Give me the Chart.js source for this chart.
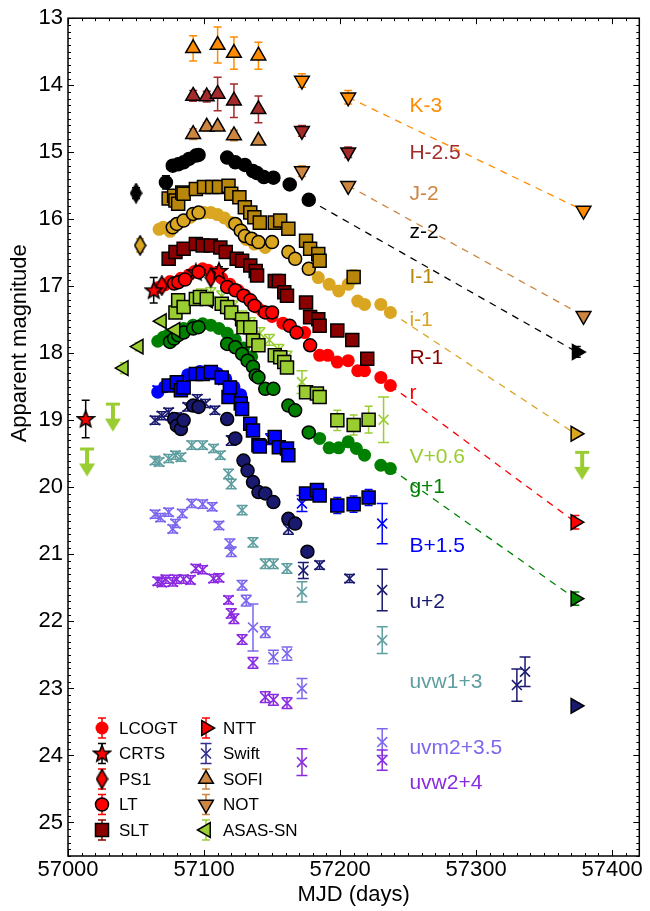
<!DOCTYPE html>
<html>
<head>
<meta charset="utf-8">
<script src="https://cdn.jsdelivr.net/npm/chart.js@4.4.1/dist/chart.umd.min.js"></script>
<style>
  html, body { margin: 0; padding: 0; background: #fff; }
</style>
</head>
<body>
<canvas id="lc" width="650" height="911"></canvas>
<script>
// photometry, [MJD, apparent mag (with offset), error]
const K_SOFI = [[57092,13.45,0.19],[57110,13.40,0.27],[57122,13.52,0.24],[57140,13.56,0.2]];
const K_NOT = [[57172,13.93,0.1],[57206,14.18,0.1]];
const K_LATE = [[57379,15.87,0.04]];
const H_SOFI = [[57092,14.16,0.08],[57102,14.17,0.08],[57110,14.13,0.25],[57122,14.23,0.25],[57140,14.36,0.2]];
const H_NOT = [[57172,14.68,0.08],[57206,15.00,0.08]];
const J_SOFI = [[57092,14.73,0.08],[57102,14.62,0.06],[57110,14.62,0.04],[57122,14.75,0.08],[57140,14.83,0.04]];
const J_NOT = [[57172,15.28,0.08],[57206,15.50,0.04]];
const J_LATE = [[57379,17.44,0.03]];

const z_LT = [[57072,15.45,0.1],[57077,15.20],[57081,15.18],[57085,15.15],[57089,15.10],[57094,15.05],[57096,15.04],[57117,15.08],[57123,15.15],[57130,15.19],[57136,15.28],[57139,15.31],[57144,15.37],[57151,15.38],[57163,15.48],[57177,15.71]];
const z_PS1 = [[57050,15.61,0.08]];
const z_NTT = [[57374,17.98,0.08]];

const I_SLT = [[57074,15.69],[57078,15.65],[57079,15.72],[57081,15.77],[57084,15.60],[57085,15.62],[57094,15.55],[57100,15.52],[57106,15.52],[57111,15.52],[57118,15.50],[57120,15.62],[57126,15.67],[57130,15.82],[57134,15.90],[57137,15.97],[57141,16.05],[57152,16.05],[57156,16.02],[57162,16.14],[57175,16.32],[57178,16.44],[57184,16.52],[57185,16.62],[57210,16.86,0.1]];

const i_LT = [[57077,16.12],[57080,16.07],[57085,16.02],[57092,15.92],[57096,15.90],[57123,16.07],[57127,16.17],[57130,16.25],[57135,16.29],[57140,16.34],[57150,16.34],[57162,16.49],[57167,16.59],[57177,16.74]];
const i_LCOGT = [[57067,16.15,0.06],[57070,16.12],[57075,16.18],[57080,16.08],[57090,15.97],[57100,15.90,0.06],[57105,15.90,0.06],[57110,15.93],[57115,15.98],[57120,16.05],[57125,16.12],[57131,16.30],[57137,16.37],[57145,16.42],[57184,16.87],[57192,16.97],[57199,17.07],[57206,16.97],[57213,17.22],[57218,17.27],[57230,17.27],[57237,17.39,0.06]];
const i_PS1 = [[57053,16.39,0.1]];
const i_NTT = [[57373,19.20,0.05]];

const R_SLT = [[57074,16.59],[57079,16.49],[57085,16.44],[57094,16.37],[57099,16.39],[57105,16.39],[57112,16.42],[57116,16.49],[57124,16.59],[57128,16.62],[57134,16.69],[57138,16.77],[57139,16.84],[57152,16.92],[57155,16.92],[57159,17.09],[57161,17.14],[57175,17.24],[57178,17.46],[57184,17.49],[57185,17.59],[57198,17.66,0.08],[57209,17.80,0.08],[57220,18.08]];

const r_LCOGT = [[57066,17.02],[57071,16.98],[57075,16.93],[57083,16.88],[57089,16.83],[57093,16.78],[57099,16.74],[57103,16.76],[57108,16.80],[57113,16.88],[57119,16.97],[57125,17.06],[57130,17.13],[57134,17.22],[57139,17.31],[57143,17.37],[57150,17.45],[57158,17.55],[57174,17.69],[57185,18.03],[57191,18.03],[57198,18.13],[57206,18.11],[57213,18.26],[57218,18.26],[57230,18.36],[57237,18.48,0.06]];
const r_LT = [[57078,16.96],[57081,16.94],[57086,16.90],[57096,16.79],[57117,17.01],[57123,17.06],[57129,17.14],[57134,17.21],[57137,17.29],[57145,17.39],[57150,17.39],[57163,17.59],[57168,17.69],[57178,17.88]];
const r_CRTS = [[57013,18.98,0.28],[57063,17.06,0.19],[57094,16.79,0.06],[57111,16.77,0.06]];
const r_PS1 = [[57069,16.99,0.05],[57105,16.87,0.05]];
const r_NTT = [[57373,20.52,0.1]];

const V_ASAS = [[57041,18.22,0.08],[57052,17.90,0.06],[57069,17.52,0.05],[57079,17.65,0.05],[57103,17.21,0.05],[57120,17.40,0.05]];
const V_LIMITS = [[57014,19.42],[57033,18.75],[57378,19.47]];
const V_SLT = [[57079,17.39],[57081,17.21],[57085,17.31],[57094,17.19],[57097,17.16],[57102,17.19],[57113,17.26],[57117,17.31],[57120,17.39],[57128,17.49],[57129,17.61],[57134,17.61],[57136,17.81],[57140,17.88],[57152,18.03],[57156,18.06],[57159,18.13],[57161,18.21],[57175,18.58],[57183,18.60],[57185,18.65],[57198,19.00,0.15],[57210,19.07,0.15],[57221,18.99,0.2]];
const V_SWIFT = [[57098,17.12,0.08],[57105,17.10,0.08],[57113,17.15,0.08],[57121,17.30,0.08],[57128,17.45,0.08],[57134,17.55,0.08],[57141,17.70,0.08],[57148,17.80,0.08],[57155,17.95,0.08],[57161,18.05,0.08],[57172,18.43,0.17],[57232,18.99,0.34]];

const g_LT = [[57075,17.83],[57078,17.78],[57081,17.73],[57085,17.69],[57092,17.63],[57096,17.61],[57117,17.86],[57123,17.91],[57128,18.01],[57132,18.11],[57136,18.20],[57138,18.33],[57140,18.36],[57145,18.53],[57151,18.53],[57162,18.78],[57167,18.85],[57177,19.18]];
const g_LCOGT = [[57066,17.82],[57070,17.76],[57074,17.72],[57079,17.68],[57085,17.63],[57092,17.58],[57099,17.56],[57105,17.58],[57111,17.63],[57117,17.70],[57123,17.80],[57129,17.92],[57135,18.05],[57185,19.27],[57192,19.41],[57199,19.41],[57206,19.32],[57212,19.42],[57218,19.52],[57230,19.67],[57237,19.72,0.06]];
const g_NTT = [[57373,21.66,0.1]];

const B_SLT = [[57074,18.48],[57080,18.43],[57083,18.55],[57085,18.51],[57094,18.31],[57099,18.31],[57105,18.28],[57113,18.36],[57118,18.65],[57119,18.51],[57127,18.75],[57128,18.83],[57134,19.05],[57136,19.15],[57140,19.37],[57141,19.39],[57152,19.25],[57155,19.40],[57161,19.42],[57162,19.52],[57175,20.09,0.08],[57183,20.04],[57185,20.12],[57198,20.27,0.12],[57210,20.25,0.12],[57221,20.15,0.12]];
const B_LCOGT = [[57066,18.58,0.06],[57071,18.50,0.06],[57077,18.45,0.06],[57088,18.32,0.06],[57097,18.27,0.06],[57104,18.27,0.06],[57110,18.30,0.06],[57116,18.38,0.06],[57122,18.50,0.06],[57127,18.62,0.06]];
const B_SWIFT = [[57066,18.55,0.06],[57072,18.50,0.06],[57092,18.33,0.06],[57099,18.30,0.06],[57107,18.33,0.06],[57114,18.40,0.06],[57124,18.65,0.07],[57149,19.28,0.08],[57172,20.24,0.12],[57231,20.54,0.3]];

const u_LT = [[57078,18.98],[57080,19.08],[57083,19.13],[57085,19.00],[57092,18.78],[57096,18.80],[57117,18.98],[57123,19.27],[57129,19.60],[57132,19.75],[57136,19.92],[57140,20.07],[57145,20.09],[57151,20.22],[57162,20.47],[57167,20.54],[57176,20.96]];
const u_SWIFT = [[57064,19.00,0.06],[57069,18.93,0.06],[57074,18.88,0.06],[57080,18.95,0.06],[57088,18.80,0.06],[57095,18.68,0.06],[57101,18.75,0.06],[57108,18.85,0.06],[57120,19.30,0.07],[57162,20.62,0.08],[57173,21.24,0.12],[57185,21.16,0.06],[57207,21.36,0.06],[57231,21.53,0.31],[57330,22.95,0.24],[57336,22.75,0.22]];
const u_NTT = [[57373,23.26,0.04]];

const uvw1_SWIFT = [[57064,19.60,0.06],[57067,19.62,0.06],[57074,19.57,0.06],[57079,19.52,0.06],[57083,19.55,0.06],[57091,19.37,0.06],[57099,19.37,0.06],[57107,19.42,0.06],[57112,19.52,0.06],[57118,19.80,0.07],[57120,19.95,0.07],[57128,20.34,0.07],[57136,20.82,0.07],[57145,21.14,0.07],[57151,21.14,0.07],[57161,21.21,0.07],[57172,21.56,0.15],[57231,22.28,0.2]];
const uvm2_SWIFT = [[57064,20.40,0.06],[57068,20.45,0.06],[57074,20.37,0.06],[57077,20.62,0.06],[57079,20.54,0.06],[57084,20.39,0.06],[57091,20.24,0.06],[57099,20.25,0.06],[57106,20.29,0.06],[57111,20.57,0.06],[57119,20.84,0.07],[57120,20.96,0.07],[57128,21.46,0.07],[57131,21.69,0.08],[57136,22.09,0.35],[57145,22.16,0.08],[57151,22.53,0.1],[57161,22.48,0.1],[57172,23.00,0.15],[57231,23.80,0.2]];
const uvw2_SWIFT = [[57066,21.40,0.06],[57069,21.42,0.06],[57072,21.37,0.06],[57077,21.41,0.06],[57080,21.37,0.06],[57085,21.37,0.06],[57090,21.38,0.06],[57094,21.21,0.06],[57099,21.23,0.06],[57107,21.36,0.06],[57111,21.35,0.06],[57118,21.68,0.06],[57120,21.88,0.07],[57122,21.96,0.07],[57128,22.27,0.07],[57136,22.62,0.08],[57145,23.13,0.08],[57151,23.17,0.08],[57161,23.22,0.08],[57172,24.10,0.2],[57231,24.07,0.15]];

const xTicks = [57000, 57100, 57200, 57300, 57400];
const yTicks = [13, 14, 15, 16, 17, 18, 19, 20, 21, 22, 23, 24, 25];

const COL = {K:'#FF8C00', H:'#A52A2A', J:'#CD853F', z:'#000000', I:'#B8860B', i:'#DAA520', R:'#8B0000', r:'#FF0000',
  V:'#9ACD32', g:'#008000', B:'#0000FF', u:'#191970', w1:'#5F9EA0', m2:'#7B68EE', w2:'#8A2BE2'};
const FONT = "'Liberation Sans', Arial, sans-serif";

// marker images Chart.js has no built-in shape for
function starImg(fill) {
  const c = document.createElement('canvas'); c.width = 20; c.height = 20;
  const x = c.getContext('2d');
  x.beginPath();
  for (let k = 0; k < 10; k++) {
    const rr = k % 2 ? 3.8 : 8.8, a = -Math.PI / 2 + k * Math.PI / 5;
    x.lineTo(10 + rr * Math.cos(a), 10.5 + rr * Math.sin(a));
  }
  x.closePath(); x.fillStyle = fill; x.fill();
  x.lineWidth = 1.5; x.strokeStyle = '#000'; x.stroke();
  return c;
}
function diamondImg(fill) {
  const c = document.createElement('canvas'); c.width = 13; c.height = 21;
  const x = c.getContext('2d');
  x.beginPath(); x.moveTo(6.5, 1); x.lineTo(12, 10.5); x.lineTo(6.5, 20); x.lineTo(1, 10.5); x.closePath();
  x.fillStyle = fill; x.fill(); x.lineWidth = 1.5; x.strokeStyle = '#000'; x.stroke();
  return c;
}
function arrowImg(col) {
  const c = document.createElement('canvas'); c.width = 18; c.height = 60;
  const x = c.getContext('2d');
  x.fillStyle = col;
  x.fillRect(2, 29, 14, 3);
  x.fillRect(7, 30, 4, 17);
  x.beginPath(); x.moveTo(1, 45); x.lineTo(17, 45); x.lineTo(9, 58); x.closePath(); x.fill();
  return c;
}

const MARK = {
  LCOGT: {style: 'circle', r: 6.5, bw: 0, order: 50},
  LT: {style: 'circle', r: 6.5, bw: 1.5, order: 10},
  SLT: {style: 'rect', r: 9.2, bw: 1.5, order: 10},
  NTT: {style: 'triangle', r: 8.5, rot: 90, bw: 1.5, order: 10},
  SOFI: {style: 'triangle', r: 8.5, rot: 0, bw: 1.5, order: 10},
  NOT: {style: 'triangle', r: 8.5, rot: 180, bw: 1.5, order: 10},
  ASAS: {style: 'triangle', r: 8.5, rot: 270, bw: 1.5, order: 10},
  Swift: {style: 'crossRot', r: 7, bw: 1.6, order: 40},
  PS1: {style: 'img', r: 7, bw: 1.5, order: 10},
  CRTS: {style: 'img', r: 8, bw: 1.5, order: 10}
};

function series(rows, color, inst, errCol) {
  const m = MARK[inst];
  let style = m.style;
  if (inst === 'PS1') style = diamondImg(color);
  if (inst === 'CRTS') style = starImg(color);
  return {
    type: 'scatter',
    data: rows.map(p => ({x: p[0], y: p[1], e: p[2] || 0})),
    pointStyle: style,
    pointRadius: m.r,
    pointHoverRadius: m.r,
    pointRotation: m.rot || 0,
    pointBackgroundColor: color,
    pointBorderColor: inst === 'Swift' ? color : '#000',
    pointBorderWidth: m.bw,
    errColor: errCol || color,
    cap: inst === 'Swift' ? 5.5 : 4,
    order: m.order
  };
}
function dash(a, b, color) {
  return {type: 'line', data: [{x: a[0], y: a[1]}, {x: b[0], y: b[1]}], borderColor: color,
    borderWidth: 1.3, borderDash: [7, 6], pointRadius: 0, fill: false, order: 100};
}

const datasets = [
  dash(K_NOT[K_NOT.length - 1], K_LATE[0], COL.K),
  dash(J_NOT[J_NOT.length - 1], J_LATE[0], COL.J),
  dash(z_LT[z_LT.length - 1], z_NTT[0], COL.z),
  dash(i_LCOGT[i_LCOGT.length - 1], i_NTT[0], COL.i),
  dash(r_LCOGT[r_LCOGT.length - 1], r_NTT[0], COL.r),
  dash(g_LCOGT[g_LCOGT.length - 1], g_NTT[0], COL.g),
  series(K_SOFI, COL.K, 'SOFI'), series(K_NOT, COL.K, 'NOT'), series(K_LATE, COL.K, 'NOT'),
  series(H_SOFI, COL.H, 'SOFI'), series(H_NOT, COL.H, 'NOT'),
  series(J_SOFI, COL.J, 'SOFI'), series(J_NOT, COL.J, 'NOT'), series(J_LATE, COL.J, 'NOT'),
  series(z_LT, COL.z, 'LT'), series(z_PS1, COL.z, 'PS1'), series(z_NTT, COL.z, 'NTT'),
  series(I_SLT, COL.I, 'SLT'),
  series(i_LCOGT, COL.i, 'LCOGT'), series(i_LT, COL.i, 'LT'), series(i_PS1, COL.i, 'PS1'), series(i_NTT, COL.i, 'NTT'),
  series(R_SLT, COL.R, 'SLT'),
  series(r_LCOGT, COL.r, 'LCOGT'), series(r_LT, COL.r, 'LT'), series(r_CRTS, COL.r, 'CRTS', '#000'),
  series(r_PS1, COL.r, 'PS1'), series(r_NTT, COL.r, 'NTT'),
  series(V_SWIFT, COL.V, 'Swift'), series(V_SLT, COL.V, 'SLT'), series(V_ASAS, COL.V, 'ASAS'),
  {type: 'scatter', data: V_LIMITS.map(p => ({x: p[0], y: p[1]})), pointStyle: arrowImg(COL.V), pointRadius: 8, order: 10},
  series(g_LCOGT, COL.g, 'LCOGT'), series(g_LT, COL.g, 'LT'), series(g_NTT, COL.g, 'NTT'),
  series(B_LCOGT, COL.B, 'LCOGT'), series(B_SWIFT, COL.B, 'Swift'), series(B_SLT, COL.B, 'SLT'),
  series(u_SWIFT, COL.u, 'Swift'), series(u_LT, COL.u, 'LT'), series(u_NTT, COL.u, 'NTT'),
  series(uvw1_SWIFT, COL.w1, 'Swift'), series(uvm2_SWIFT, COL.m2, 'Swift'), series(uvw2_SWIFT, COL.w2, 'Swift')
];

// vertical error bars with caps, under the markers
const errorBars = {
  id: 'errorBars',
  beforeDatasetsDraw(chart) {
    const {ctx, scales: {x, y}} = chart;
    ctx.save();
    ctx.lineWidth = 1.5;
    chart.data.datasets.forEach(ds => {
      if (!ds.errColor) return;
      ctx.strokeStyle = ds.errColor;
      const c = ds.cap;
      ds.data.forEach(p => {
        if (!p.e) return;
        const px = x.getPixelForValue(p.x);
        const y1 = y.getPixelForValue(p.y - p.e), y2 = y.getPixelForValue(p.y + p.e);
        ctx.beginPath();
        ctx.moveTo(px, y1); ctx.lineTo(px, y2);
        ctx.moveTo(px - c, y1); ctx.lineTo(px + c, y1);
        ctx.moveTo(px - c, y2); ctx.lineTo(px + c, y2);
        ctx.stroke();
      });
    });
    ctx.restore();
  }
};

// closed frame with inward ticks on all four sides, plus the y title
const frame = {
  id: 'frame',
  afterDraw(chart, args, opts) {
    const {ctx, chartArea: a, scales: {x, y}} = chart;
    ctx.save();
    ctx.strokeStyle = '#000';
    ctx.lineWidth = 1.5;
    ctx.strokeRect(a.left, a.top, a.right - a.left, a.bottom - a.top);
    ctx.lineWidth = 1;
    ctx.beginPath();
    for (let v = x.min; v <= x.max; v += 10) {
      const px = Math.round(x.getPixelForValue(v)) + 0.5, L = v % 100 === 0 ? 6 : 3;
      ctx.moveTo(px, a.bottom); ctx.lineTo(px, a.bottom - L);
      ctx.moveTo(px, a.top); ctx.lineTo(px, a.top + L);
    }
    for (let k = Math.round(y.min * 10); k <= Math.round(y.max * 10); k++) {
      const py = Math.round(y.getPixelForValue(k / 10)) + 0.5, L = k % 10 === 0 ? 6 : 3;
      ctx.moveTo(a.left, py); ctx.lineTo(a.left + L, py);
      ctx.moveTo(a.right, py); ctx.lineTo(a.right - L, py);
    }
    ctx.stroke();
    ctx.translate(opts.titleX, y.getPixelForValue(opts.titleMag));
    ctx.rotate(-Math.PI / 2);
    ctx.font = '22px ' + FONT;
    ctx.fillStyle = '#000';
    ctx.textAlign = 'center';
    ctx.textBaseline = 'middle';
    ctx.fillText(opts.title, 0, 0);
    ctx.restore();
  }
};

// band names written at the right of the curves
const bandNames = {
  id: 'bandNames',
  afterDatasetsDraw(chart, args, opts) {
    const {ctx, scales: {x, y}} = chart;
    ctx.save();
    ctx.font = '21px ' + FONT;
    ctx.textBaseline = 'middle';
    ctx.textAlign = 'left';
    opts.items.forEach(it => {
      ctx.fillStyle = it.color;
      ctx.fillText(it.text, x.getPixelForValue(opts.at), y.getPixelForValue(it.mag));
    });
    ctx.restore();
  }
};

// two-column instrument key in the lower left corner
const instKey = {
  id: 'instKey',
  afterDraw(chart, args, opts) {
    const {ctx} = chart;
    const H = Chart.helpers;
    ctx.save();
    ctx.font = '17px ' + FONT;
    ctx.textBaseline = 'middle';
    opts.items.forEach((it, n) => {
      const col = Math.floor(n / 5), row = n % 5;
      const mx = opts.x[col], my = opts.y + row * opts.dy;
      const c = it.inst === 'Swift' ? 5.5 : 4;
      ctx.strokeStyle = it.err; ctx.lineWidth = 1.5;
      ctx.beginPath();
      ctx.moveTo(mx, my - 10); ctx.lineTo(mx, my + 10);
      ctx.moveTo(mx - c, my - 10); ctx.lineTo(mx + c, my - 10);
      ctx.moveTo(mx - c, my + 10); ctx.lineTo(mx + c, my + 10);
      ctx.stroke();
      const m = MARK[it.inst];
      let style = m.style;
      if (it.inst === 'PS1') style = diamondImg(it.fill);
      if (it.inst === 'CRTS') style = starImg(it.fill);
      ctx.fillStyle = it.fill;
      ctx.strokeStyle = it.inst === 'Swift' ? it.fill : '#000';
      ctx.lineWidth = m.bw;
      H.drawPoint(ctx, {pointStyle: style, radius: m.r, rotation: m.rot || 0, borderWidth: m.bw}, mx, my);
      ctx.fillStyle = '#000';
      ctx.fillText(it.text, mx + 17, my + 1);
    });
    ctx.restore();
  }
};

new Chart(document.getElementById('lc'), {
  type: 'scatter',
  data: {datasets: datasets},
  plugins: [errorBars, frame, bandNames, instKey],
  options: {
    responsive: false,
    animation: false,
    devicePixelRatio: 1,
    layout: {padding: {top: 17, right: 7, left: 0, bottom: 0}},
    scales: {
      x: {
        type: 'linear', min: 57000, max: 57420,
        grid: {display: false, drawTicks: false},
        border: {display: false},
        afterBuildTicks: s => { s.ticks = xTicks.map(v => ({value: v})); },
        afterFit: s => { s.height = 55; },
        ticks: {color: '#000', font: {family: FONT, size: 22}, padding: 1, maxRotation: 0,
          callback: v => String(v)},
        title: {display: true, text: 'MJD (days)', color: '#000', font: {family: FONT, size: 22},
          padding: {top: 0, bottom: 3}}
      },
      y: {
        type: 'linear', reverse: true, min: 13, max: 25.5,
        grid: {display: false, drawTicks: false},
        border: {display: false},
        afterBuildTicks: s => { s.ticks = yTicks.map(v => ({value: v})); },
        afterFit: s => { s.width = 68; },
        ticks: {color: '#000', font: {family: FONT, size: 22}, padding: 5, callback: v => String(v)},
        title: {display: false}
      }
    },
    plugins: {
      legend: {display: false},
      tooltip: {enabled: false},
      frame: {title: 'Apparent magnitude', titleX: 20, titleMag: 17.85},
      bandNames: {
        at: 57251,
        items: [
          {text: 'K-3', mag: 14.31, color: COL.K},
          {text: 'H-2.5', mag: 15.02, color: COL.H},
          {text: 'J-2', mag: 15.62, color: COL.J},
          {text: 'z-2', mag: 16.20, color: COL.z},
          {text: 'I-1', mag: 16.87, color: COL.I},
          {text: 'i-1', mag: 17.51, color: COL.i},
          {text: 'R-1', mag: 18.08, color: COL.R},
          {text: 'r', mag: 18.60, color: COL.r},
          {text: 'V+0.6', mag: 19.55, color: COL.V},
          {text: 'g+1', mag: 20.00, color: COL.g},
          {text: 'B+1.5', mag: 20.88, color: COL.B},
          {text: 'u+2', mag: 21.71, color: COL.u},
          {text: 'uvw1+3', mag: 22.91, color: COL.w1},
          {text: 'uvm2+3.5', mag: 23.89, color: COL.m2},
          {text: 'uvw2+4', mag: 24.41, color: COL.w2}
        ]
      },
      instKey: {
        x: [102, 206], y: 728, dy: 25.5,
        items: [
          {text: 'LCOGT', inst: 'LCOGT', fill: '#FF0000', err: '#FF0000'},
          {text: 'CRTS', inst: 'CRTS', fill: '#FF0000', err: '#000000'},
          {text: 'PS1', inst: 'PS1', fill: '#FF0000', err: '#FF0000'},
          {text: 'LT', inst: 'LT', fill: '#FF0000', err: '#FF0000'},
          {text: 'SLT', inst: 'SLT', fill: '#8B0000', err: '#8B0000'},
          {text: 'NTT', inst: 'NTT', fill: '#FF0000', err: '#FF0000'},
          {text: 'Swift', inst: 'Swift', fill: '#2E2E8A', err: '#2E2E8A'},
          {text: 'SOFI', inst: 'SOFI', fill: '#CD853F', err: '#CD853F'},
          {text: 'NOT', inst: 'NOT', fill: '#CD853F', err: '#CD853F'},
          {text: 'ASAS-SN', inst: 'ASAS', fill: '#9ACD32', err: '#9ACD32'}
        ]
      }
    }
  }
});
</script>
</body>
</html>
